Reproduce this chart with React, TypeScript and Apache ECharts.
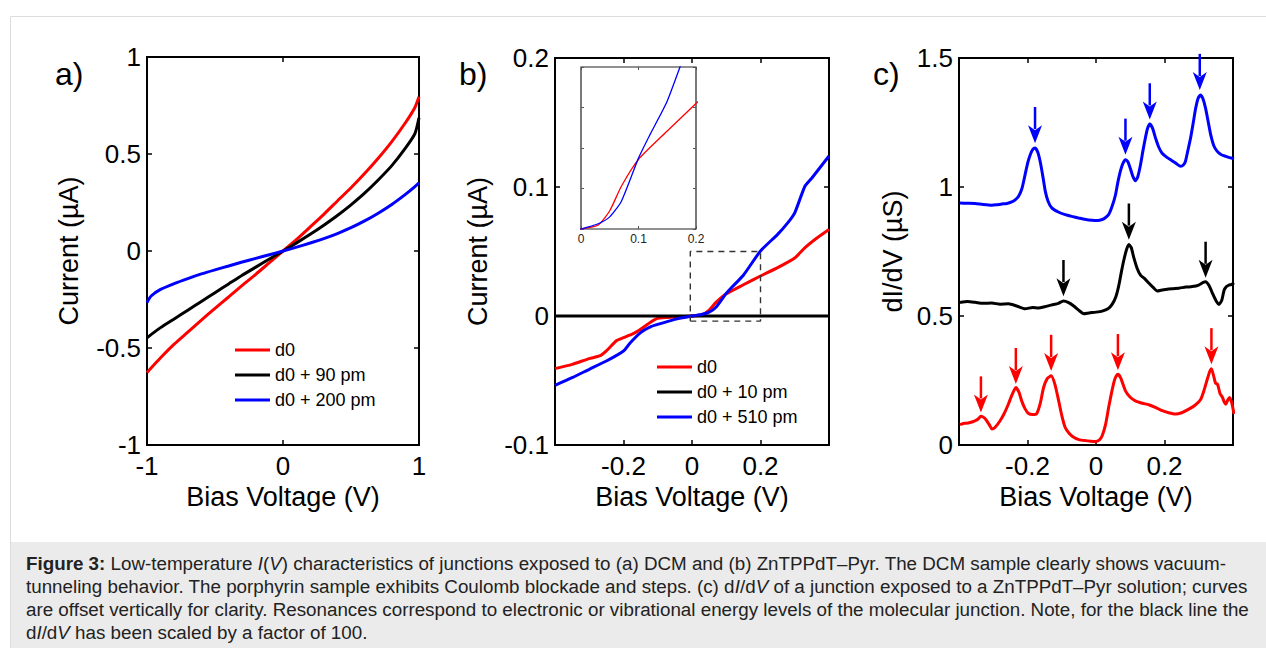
import React, { useEffect, useRef } from "react";
import * as echarts from "echarts";

const FONT = "Liberation Sans, Arial, Helvetica, sans-serif";

// ---------- Panel a : I(V), DCM ----------
const aVolt = [-1, -0.97, -0.9, -0.8, -0.7, -0.6, -0.5, -0.4, -0.3, -0.2, -0.1, 0, 0.1, 0.2, 0.3, 0.4, 0.5, 0.6, 0.7, 0.8, 0.9, 0.97, 1];
const aRed = [-0.627, -0.603, -0.55, -0.48, -0.418, -0.356, -0.296, -0.237, -0.177, -0.12, -0.06, 0, 0.06, 0.124, 0.189, 0.258, 0.326, 0.399, 0.478, 0.564, 0.661, 0.74, 0.795];
const aBlack = [-0.447, -0.431, -0.395, -0.35, -0.305, -0.26, -0.215, -0.17, -0.125, -0.083, -0.041, 0, 0.042, 0.086, 0.133, 0.183, 0.238, 0.298, 0.366, 0.44, 0.53, 0.605, 0.687];
const aBlue = [-0.266, -0.232, -0.198, -0.168, -0.142, -0.118, -0.097, -0.077, -0.057, -0.038, -0.019, 0, 0.02, 0.041, 0.064, 0.09, 0.12, 0.155, 0.195, 0.24, 0.292, 0.332, 0.352];
const aNames = ["d0", "d0 + 90 pm", "d0 + 200 pm"];

// ---------- Panel b : I(V), ZnTPPdT-Pyr ----------
const bRedVolt = [-0.4, -0.35, -0.3, -0.27, -0.25, -0.22, -0.2, -0.17, -0.15, -0.12, -0.1, -0.05, 0, 0.03, 0.05, 0.07, 0.1, 0.15, 0.2, 0.25, 0.3, 0.33, 0.36, 0.4];
const bRed = [-0.0408, -0.0375, -0.033, -0.031, -0.027, -0.019, -0.0168, -0.0135, -0.0103, -0.0047, -0.0018, -0.0008, 0, 0.001, 0.0045, 0.0105, 0.0172, 0.0242, 0.031, 0.0375, 0.045, 0.053, 0.0595, 0.067];
const bBlueVolt = [-0.4, -0.35, -0.3, -0.25, -0.2, -0.18, -0.15, -0.12, -0.1, -0.05, 0, 0.03, 0.05, 0.07, 0.1, 0.12, 0.15, 0.2, 0.25, 0.28, 0.3, 0.33, 0.35, 0.4];
const bBlue = [-0.0537, -0.0478, -0.0413, -0.0349, -0.0271, -0.0207, -0.0129, -0.0083, -0.0065, -0.0026, 0, 0.0013, 0.003, 0.0068, 0.0175, 0.0233, 0.0316, 0.0504, 0.0633, 0.0724, 0.08, 0.1008, 0.107, 0.124];
const bBlackVolt = [-0.4, 0.4];
const bBlack = [0, 0];
const bNames = ["d0", "d0 + 10 pm", "d0 + 510 pm"];
// zoom box (x range, y range) shown in the inset
const zoomBoxX = [-0.005, 0.2, 0.2, -0.005, -0.005];
const zoomBoxY = [-0.004, -0.004, 0.05, 0.05, -0.004];

// ---------- Panel c : dI/dV (offset) ----------
const cBlueVolt = [-0.397, -0.375, -0.353, -0.33, -0.304, -0.29, -0.275, -0.26, -0.246, -0.236, -0.226, -0.216, -0.207, -0.199, -0.192, -0.185, -0.178, -0.17, -0.163, -0.155, -0.148, -0.14, -0.129, -0.11, -0.09, -0.07, -0.051, -0.03, -0.012, 0.005, 0.018, 0.028, 0.037, 0.047, 0.057, 0.064, 0.071, 0.078, 0.086, 0.093, 0.1, 0.108, 0.115, 0.122, 0.13, 0.137, 0.144, 0.15, 0.157, 0.165, 0.174, 0.183, 0.193, 0.207, 0.222, 0.235, 0.247, 0.255, 0.261, 0.268, 0.276, 0.284, 0.291, 0.298, 0.305, 0.312, 0.32, 0.328, 0.335, 0.344, 0.354, 0.366, 0.379, 0.39, 0.403];
const cBlue = [0.938, 0.937, 0.936, 0.932, 0.929, 0.931, 0.934, 0.936, 0.942, 0.95, 0.964, 0.995, 1.048, 1.095, 1.125, 1.145, 1.151, 1.135, 1.099, 1.04, 0.983, 0.945, 0.919, 0.903, 0.893, 0.886, 0.88, 0.874, 0.871, 0.87, 0.874, 0.882, 0.893, 0.925, 0.97, 1.02, 1.061, 1.09, 1.106, 1.098, 1.073, 1.04, 1.024, 1.04, 1.086, 1.14, 1.189, 1.225, 1.244, 1.228, 1.189, 1.155, 1.131, 1.115, 1.102, 1.09, 1.08, 1.085, 1.099, 1.14, 1.189, 1.25, 1.305, 1.343, 1.357, 1.343, 1.305, 1.25, 1.202, 1.16, 1.138, 1.125, 1.119, 1.114, 1.11];
const cBlackVolt = [-0.397, -0.375, -0.353, -0.33, -0.304, -0.28, -0.256, -0.23, -0.207, -0.185, -0.168, -0.15, -0.129, -0.11, -0.095, -0.08, -0.065, -0.05, -0.036, -0.02, 0, 0.018, 0.035, 0.047, 0.058, 0.066, 0.074, 0.081, 0.089, 0.096, 0.103, 0.11, 0.12, 0.13, 0.142, 0.154, 0.166, 0.179, 0.19, 0.203, 0.222, 0.242, 0.262, 0.281, 0.3, 0.313, 0.32, 0.33, 0.34, 0.35, 0.359, 0.367, 0.374, 0.381, 0.388, 0.395, 0.403];
const cBlack = [0.552, 0.556, 0.553, 0.549, 0.55, 0.546, 0.547, 0.538, 0.528, 0.533, 0.531, 0.536, 0.543, 0.549, 0.558, 0.552, 0.539, 0.522, 0.509, 0.512, 0.515, 0.519, 0.528, 0.545, 0.575, 0.615, 0.67, 0.715, 0.757, 0.777, 0.765, 0.728, 0.685, 0.658, 0.645, 0.628, 0.612, 0.597, 0.6, 0.603, 0.606, 0.608, 0.612, 0.614, 0.62, 0.63, 0.633, 0.618, 0.588, 0.56, 0.545, 0.56, 0.6, 0.614, 0.62, 0.622, 0.629];
const cRedVolt = [-0.397, -0.385, -0.373, -0.36, -0.353, -0.345, -0.336, -0.327, -0.319, -0.31, -0.304, -0.295, -0.28, -0.268, -0.256, -0.245, -0.234, -0.225, -0.217, -0.207, -0.197, -0.185, -0.173, -0.163, -0.153, -0.142, -0.131, -0.12, -0.109, -0.1, -0.09, -0.078, -0.065, -0.05, -0.031, -0.015, -0.002, 0.01, 0.018, 0.028, 0.037, 0.045, 0.052, 0.058, 0.064, 0.072, 0.086, 0.1, 0.115, 0.135, 0.154, 0.175, 0.193, 0.212, 0.232, 0.25, 0.271, 0.29, 0.305, 0.315, 0.325, 0.332, 0.337, 0.343, 0.349, 0.355, 0.362, 0.369, 0.375, 0.379, 0.385, 0.39, 0.396, 0.403];
const cRed = [0.079, 0.084, 0.085, 0.09, 0.094, 0.1, 0.111, 0.106, 0.094, 0.075, 0.062, 0.068, 0.094, 0.122, 0.158, 0.195, 0.223, 0.205, 0.171, 0.14, 0.122, 0.118, 0.122, 0.16, 0.223, 0.258, 0.268, 0.235, 0.171, 0.115, 0.068, 0.045, 0.03, 0.021, 0.017, 0.015, 0.014, 0.02, 0.036, 0.08, 0.146, 0.2, 0.242, 0.265, 0.274, 0.26, 0.21, 0.185, 0.171, 0.162, 0.156, 0.145, 0.133, 0.125, 0.12, 0.125, 0.139, 0.155, 0.175, 0.21, 0.255, 0.285, 0.296, 0.27, 0.24, 0.235, 0.2, 0.185, 0.165, 0.158, 0.175, 0.184, 0.165, 0.12];

// resonance arrows: bias position and value at the arrow tip
const cBlueArrowV = [-0.178, 0.086, 0.157, 0.303];
const cBlueArrowTip = [1.17, 1.125, 1.262, 1.376];
const cBlackArrowV = [-0.095, 0.096, 0.32];
const cBlackArrowTip = [0.577, 0.796, 0.648];
const cRedArrowV = [-0.336, -0.234, -0.131, 0.064, 0.337];
const cRedArrowTip = [0.126, 0.236, 0.287, 0.29, 0.313];
const ARROW_LEN = 0.14;

const captionLines = [
  "{b|Figure 3:} Low-temperature {i|I}({i|V}) characteristics of junctions exposed to (a) DCM and (b) ZnTPPdT–Pyr. The DCM sample clearly shows vacuum-",
  "tunneling behavior. The porphyrin sample exhibits Coulomb blockade and steps. (c) d{i|I}/d{i|V} of a junction exposed to a ZnTPPdT–Pyr solution; curves",
  "are offset vertically for clarity. Resonances correspond to electronic or vibrational energy levels of the molecular junction. Note, for the black line the",
  "d{i|I}/d{i|V} has been scaled by a factor of 100.",
];

const RED = "#ff0000";
const BLACK = "#000000";
const BLUE = "#0000ff";
const TICK_FS = 26;
const CAP_FS = 18.8;
const CAP_LH = 23;

const pairs = (xs: number[], ys: number[]) => xs.map((x, i) => [x, ys[i]]);

function axis(kind: "x" | "y", gi: number, min: number, max: number, interval: number, position: string, labels: boolean, extra: any = {}) {
  return {
    type: "value",
    gridIndex: gi,
    min,
    max,
    interval,
    position,
    axisLine: { show: false, onZero: false },
    splitLine: { show: false },
    axisTick: { show: true, inside: true, length: 5, lineStyle: { color: "#000", width: 1.5 } },
    axisLabel: labels
      ? { show: true, color: "#000", fontSize: TICK_FS, fontFamily: FONT, margin: kind === "x" ? 8 : 6 }
      : { show: false },
    ...extra,
  };
}

const nameStyle = { fontSize: 27, fontFamily: FONT, color: "#000" };

function lineSeries(name: string, xi: number, data: number[][], color: string, width = 3, extra: any = {}) {
  return {
    type: "line",
    name,
    xAxisIndex: xi,
    yAxisIndex: xi,
    data,
    showSymbol: false,
    symbol: "none",
    smooth: 0.2,
    color,
    itemStyle: { color },
    lineStyle: { color, width },
    clip: true,
    animation: false,
    ...extra,
  };
}

function arrowSeries(xs: number[], tips: number[], color: string) {
  return {
    type: "custom",
    name: "arrows",
    xAxisIndex: 4,
    yAxisIndex: 4,
    data: pairs(xs, tips),
    clip: false,
    z: 5,
    renderItem: (_p: any, api: any) => {
      const v = api.value(0);
      const t = api.value(1);
      const tip = api.coord([v, t]);
      const top = api.coord([v, t + ARROW_LEN]);
      const hh = 18;
      const hw = 7;
      return {
        type: "group",
        children: [
          {
            type: "line",
            shape: { x1: tip[0], y1: top[1], x2: tip[0], y2: tip[1] - hh + 4 },
            style: { stroke: color, lineWidth: 2.5 },
          },
          {
            type: "polygon",
            shape: {
              points: [
                [tip[0], tip[1]],
                [tip[0] - hw, tip[1] - hh],
                [tip[0], tip[1] - hh + 5],
                [tip[0] + hw, tip[1] - hh],
              ],
            },
            style: { fill: color },
          },
        ],
      };
    },
  };
}

const gridBase = { show: true, borderColor: "#000", borderWidth: 2, backgroundColor: "transparent" };
const bLabel = { show: true, color: "#000", fontSize: TICK_FS, fontFamily: FONT, margin: 8, showMinLabel: false, showMaxLabel: false };
const insetTick = { show: true, inside: true, length: 3, lineStyle: { color: "#555", width: 1 } };

const option: any = {
  animation: false,
  textStyle: { fontFamily: FONT },
  grid: [
    { ...gridBase, left: 147, top: 57, width: 272, height: 388 },
    { ...gridBase, left: 555, top: 58, width: 274, height: 387 },
    { ...gridBase, left: 959, top: 58, width: 274, height: 387 },
    { ...gridBase, left: 581, top: 67, width: 115, height: 162, borderWidth: 1.2, borderColor: "#222", backgroundColor: "#fff" },
  ],
  xAxis: [
    axis("x", 0, -1, 1, 1, "bottom", true, {
      name: "Bias Voltage (V)", nameLocation: "middle", nameGap: 34, nameTextStyle: nameStyle,
    }),
    axis("x", 0, -1, 1, 1, "top", false),
    axis("x", 1, -0.4, 0.4, 0.2, "bottom", true, {
      name: "Bias Voltage (V)", nameLocation: "middle", nameGap: 34, nameTextStyle: nameStyle, axisLabel: bLabel,
    }),
    axis("x", 1, -0.4, 0.4, 0.2, "top", false),
    axis("x", 2, -0.4, 0.4, 0.2, "bottom", true, {
      name: "Bias Voltage (V)", nameLocation: "middle", nameGap: 34, nameTextStyle: nameStyle, axisLabel: bLabel,
    }),
    axis("x", 2, -0.4, 0.4, 0.2, "top", false),
    axis("x", 3, 0, 0.2, 0.1, "bottom", true, {
      axisTick: insetTick,
      axisLabel: { show: true, color: "#222", fontSize: 12, fontFamily: FONT, margin: 4 },
    }),
    axis("x", 3, 0, 0.2, 0.1, "top", false, { axisTick: insetTick }),
  ],
  yAxis: [
    axis("y", 0, -1, 1, 0.5, "left", true, {
      name: "Current (µA)", nameLocation: "middle", nameGap: 65, nameTextStyle: nameStyle,
    }),
    axis("y", 0, -1, 1, 0.5, "right", false),
    axis("y", 1, -0.1, 0.2, 0.1, "left", true, {
      name: "Current (µA)", nameLocation: "middle", nameGap: 64, nameTextStyle: nameStyle,
    }),
    axis("y", 1, -0.1, 0.2, 0.1, "right", false),
    axis("y", 2, 0, 1.5, 0.5, "left", true, {
      name: "dI/dV (µS)", nameLocation: "middle", nameGap: 53, nameTextStyle: nameStyle,
    }),
    axis("y", 2, 0, 1.5, 0.5, "right", false),
    axis("y", 3, 0, 0.04, 0.01, "left", false, { axisTick: insetTick }),
    axis("y", 3, 0, 0.04, 0.01, "right", false, { axisTick: insetTick }),
  ],
  legend: [
    {
      data: aNames,
      orient: "vertical",
      left: 235,
      top: 341,
      itemWidth: 35,
      itemHeight: 3,
      itemGap: 7,
      icon: "rect",
      padding: 0,
      selectedMode: false,
      textStyle: { fontSize: 18, fontFamily: FONT, color: "#000" },
    },
    {
      data: bNames,
      orient: "vertical",
      left: 657,
      top: 358,
      itemWidth: 35,
      itemHeight: 3,
      itemGap: 7,
      icon: "rect",
      padding: 0,
      selectedMode: false,
      textStyle: { fontSize: 18, fontFamily: FONT, color: "#000" },
    },
  ],
  graphic: [
    {
      type: "rect",
      z: -10,
      shape: { x: 10.5, y: 16.5, width: 1270, height: 640 },
      style: { fill: "#fff", stroke: "#dcdcdc", lineWidth: 1 },
    },
    {
      type: "rect",
      z: -9,
      shape: { x: 11, y: 542, width: 1260, height: 110 },
      style: { fill: "#ebebeb" },
    },
    {
      type: "text",
      left: 26,
      top: 552,
      style: {
        text: captionLines.join("\n"),
        fontSize: CAP_FS,
        fontFamily: FONT,
        fill: "#222",
        lineHeight: CAP_LH,
        rich: {
          b: { fontWeight: "bold", fontSize: CAP_FS, fontFamily: FONT, fill: "#222", lineHeight: CAP_LH },
          i: { fontStyle: "italic", fontSize: CAP_FS, fontFamily: FONT, fill: "#222", lineHeight: CAP_LH },
        },
      },
    },
    { type: "text", x: 55, y: 74, style: { text: "a)", fontSize: 32, fontFamily: FONT, fill: "#000", verticalAlign: "middle" } },
    { type: "text", x: 459, y: 74, style: { text: "b)", fontSize: 32, fontFamily: FONT, fill: "#000", verticalAlign: "middle" } },
    { type: "text", x: 873, y: 74, style: { text: "c)", fontSize: 32, fontFamily: FONT, fill: "#000", verticalAlign: "middle" } },
  ],
  series: [
    // panel a
    lineSeries(aNames[0], 0, pairs(aVolt, aRed), RED),
    lineSeries(aNames[1], 0, pairs(aVolt, aBlack), BLACK),
    lineSeries(aNames[2], 0, pairs(aVolt, aBlue), BLUE),
    // panel b
    lineSeries(bNames[0], 2, pairs(bRedVolt, bRed), RED),
    lineSeries(bNames[1], 2, pairs(bBlackVolt, bBlack), BLACK, 3, { smooth: false }),
    lineSeries(bNames[2], 2, pairs(bBlueVolt, bBlue), BLUE),
    lineSeries("zoom box", 2, pairs(zoomBoxX, zoomBoxY), "#333", 1.4, {
      smooth: false,
      lineStyle: { color: "#333", width: 1.4, type: [6, 5] },
    }),
    // inset
    lineSeries("inset d0", 6, pairs(bRedVolt, bRed), RED, 1.3, { z: 10 }),
    lineSeries("inset d0 + 510 pm", 6, pairs(bBlueVolt, bBlue), BLUE, 1.3, { z: 10 }),
    // panel c
    lineSeries("dI/dV d0 + 510 pm", 4, pairs(cBlueVolt, cBlue), BLUE, 3),
    lineSeries("dI/dV d0 + 10 pm", 4, pairs(cBlackVolt, cBlack), BLACK, 3),
    lineSeries("dI/dV d0", 4, pairs(cRedVolt, cRed), RED, 3),
    arrowSeries(cBlueArrowV, cBlueArrowTip, BLUE),
    arrowSeries(cBlackArrowV, cBlackArrowTip, BLACK),
    arrowSeries(cRedArrowV, cRedArrowTip, RED),
  ],
};

export default function App() {
  const ref = useRef<HTMLDivElement>(null);
  useEffect(() => {
    document.body.style.margin = "0";
    const chart = echarts.init(ref.current as HTMLDivElement, null, { renderer: "svg" });
    chart.setOption(option);
    return () => chart.dispose();
  }, []);
  return <div ref={ref} style={{ width: 1266, height: 648, background: "#fff", position: "absolute", left: 0, top: 0 }} />;
}
